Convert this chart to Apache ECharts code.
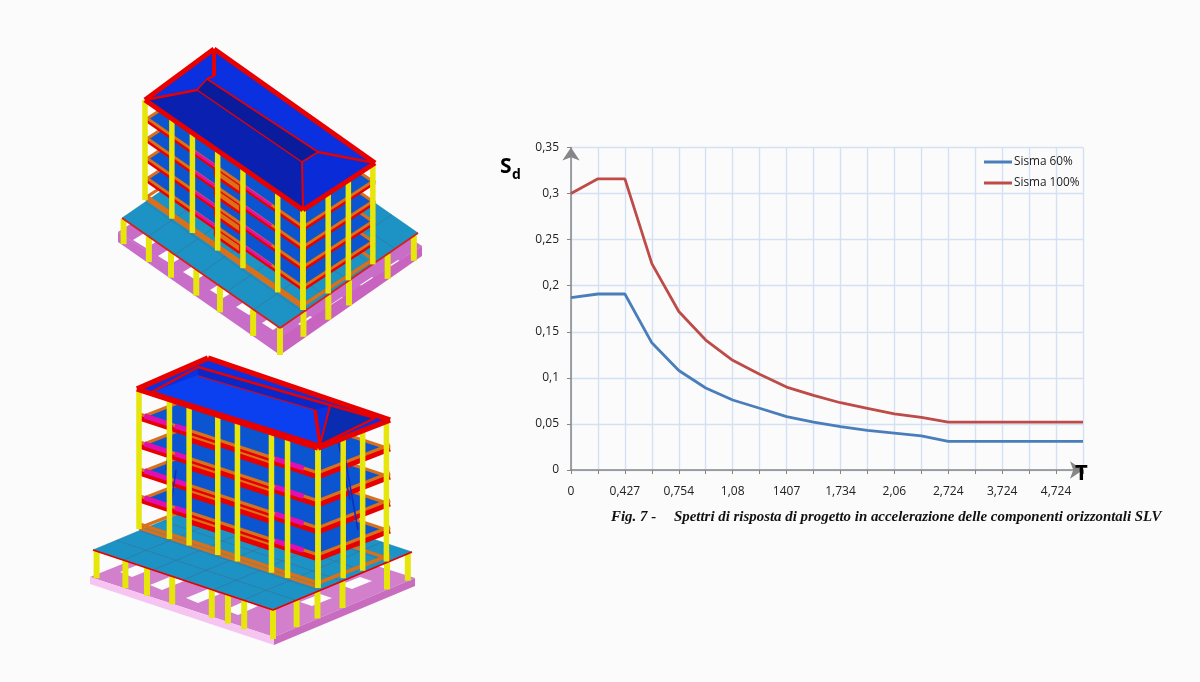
<!DOCTYPE html>
<html><head><meta charset="utf-8">
<style>html,body{margin:0;padding:0;background:#fbfbfb}#c{width:1200px;height:682px}</style>
<script src="https://cdn.jsdelivr.net/npm/echarts@6/dist/echarts.min.js"></script>
</head><body><div id="c"></div>
<script>
// ---- chart data ----
const periods = ['0','0,214','0,427','0,591','0,754','0,917','1,08','1,244','1407','1,57','1,734','1,897','2,06','2,224','2,724','3,224','3,724','4,224','4,724','5,224'];
const sisma60 = [0.187,0.191,0.191,0.138,0.108,0.089,0.076,0.067,0.058,0.052,0.047,0.043,0.040,0.037,0.031,0.031,0.031,0.031,0.031,0.031];
const sisma100 = [0.300,0.316,0.316,0.224,0.172,0.141,0.119,0.104,0.090,0.081,0.073,0.067,0.061,0.057,0.052,0.052,0.052,0.052,0.052,0.052];
const yTicks = {0:'0',0.05:'0,05',0.1:'0,1',0.15:'0,15',0.2:'0,2',0.25:'0,25',0.3:'0,3',0.35:'0,35'};
const captionFig = 'Fig. 7 -';
const captionText = 'Spettri di risposta di progetto in accelerazione delle componenti orizzontali SLV';

// ---- illustration helpers (decorative building drawings, not data) ----
const art = [];
const poly = (pts, fill, stroke, lw) => art.push({type:'polygon', silent:true, shape:{points:pts}, style:{fill, stroke:stroke||null, lineWidth:lw||0}});
const line = (a, b, color, lw) => art.push({type:'line', silent:true, shape:{x1:a[0],y1:a[1],x2:b[0],y2:b[1]}, style:{stroke:color, lineWidth:lw}});
const mix = (a, b, t) => [a[0]+(b[0]-a[0])*t, a[1]+(b[1]-a[1])*t];
const down = (p, d) => [p[0], p[1]+d];
const RED='#e80000', YEL='#e6e60a', ORG='#d9701a', TEAL='#1c93c4', MAG='#e010b0', PLATE='#0b55d0';

function building(b) {
  // base
  poly(b.baseTop, b.baseTopCol);
  b.holes.forEach(h => poly(h, '#fbfbfb'));
  poly(b.baseLeft, b.baseLeftCol);
  poly(b.baseRight, b.baseRightCol);
  // columns below the slab
  b.subLeft.forEach(t => { const p = mix(b.sL, b.sF, t); line(p, down(p, b.subH + t*2), YEL, 6); });
  b.subRight.forEach(t => { const p = mix(b.sF, b.sR, t); line(p, down(p, b.subH), YEL, 6); });
  // slab
  poly([b.sL, b.sF, b.sR, b.sB], TEAL, '#0d7f9c', 0.5);
  for (let i=1;i<6;i++) line(mix(b.sL,b.sB,i/6), mix(b.sF,b.sR,i/6), '#3a6f96', 0.6);
  for (let i=1;i<6;i++) line(mix(b.sL,b.sF,i/6), mix(b.sB,b.sR,i/6), '#3a6f96', 0.6);
  line(b.sL, b.sF, b.slabEdge, 1.8); line(b.sF, b.sR, b.slabEdge, 1.8);
  // storeys, bottom to top
  const [L,F,R] = [b.L,b.F,b.R];
  const B = [L[0]+R[0]-F[0], L[1]+R[1]-F[1]];
  b.colBack2.forEach(t => { const p = mix(B,R,t); line(p, down(p,b.h), YEL, 5); });
  [...b.levels].reverse().forEach((d,i) => {
    const bottom = i===0;
    if (!bottom) poly([down(L,d),down(F,d),down(R,d),down(B,d)], PLATE);
    line(down(B,d), down(R,d), ORG, 3);
    line(down(L,d), down(B,d), ORG, 3);
    const off = b.bandW/2 + 1.5;
    line(down(L,d-off), down(F,d-off), ORG, 3.5);
    line(down(F,d-off), down(R,d-off), ORG, 3.5);
    if (!bottom) {
      line(down(L,d), down(F,d), RED, b.bandW);
      line(down(F,d), down(R,d), RED, b.bandW);
      b.mag.forEach(m => line(down(mix(L,F,m[0]),d-off), down(mix(L,F,m[1]),d-off), MAG, b.bandW));
      b.notch.forEach(n => {
        const a = down(mix(L,F,n[0]),d), e = down(mix(L,F,n[1]),d);
        poly([a, e, down(e,b.nd), down(a,b.nd)], ORG);
        line(down(a,b.nd), down(e,b.nd), RED, b.bandW);
        line(a, down(a,b.nd), RED, 1.5);
        line(e, down(e,b.nd), RED, 1.5);
      });
    } else {
      line(down(L,d), down(F,d), ORG, 3);
    }
  });
  (b.braces||[]).forEach(s => line(s[0], s[1], '#1030c0', 1.6));
  b.colLeft.forEach(t => { const p = mix(L,F,t); line(p, down(p,b.h), YEL, 5.5); });
  b.colRight.forEach(t => { const p = mix(F,R,t); line(p, down(p,b.h), YEL, 5.5); });
  // roof
  poly(b.roofOuter, b.roofBackCol);
  poly(b.roofFront, b.roofFrontCol);
  poly(b.roofTop, b.roofTopCol);
  poly(b.roofSide, b.roofSideCol);
  b.ridges.forEach(r => line(r[0], r[1], RED, r[2]));
  for (let i=0;i<4;i++) { const [p,q]=[b.roofOuter[i],b.roofOuter[(i+1)%4]]; line(p,q,RED,b.roofW); }
}

// upper building
building({
  baseTop:[[118,232],[260,140],[422,246],[280,340]], baseTopCol:'#c96ec8',
  holes:[[[133,240],[146,232],[159,240],[146,248]],[[158,256],[171,248],[184,256],[171,264]],[[183,272],[196,264],[209,272],[196,280]],[[210,290],[223,282],[236,290],[223,298]],[[236,307],[249,299],[262,307],[249,315]],[[262,323],[273,316],[284,323],[273,330]],[[298,324],[310,316],[320,321],[308,329]],[[330,305],[342,297],[350,302],[338,310]],[[360,285],[372,277],[380,282],[368,290]],[[390,265],[398,260],[405,264],[396,269]]],
  baseLeft:[[118,232],[280,338],[280,355],[118,242]], baseLeftCol:'#c96ec8',
  baseRight:[[280,338],[422,246],[422,256],[280,355]], baseRightCol:'#c963c0',
  sL:[122,218], sF:[280,328], sR:[418,233], sB:[260,123], slabEdge:'#d8201a',
  subLeft:[0.01,0.17,0.31,0.47,0.62,0.83,1], subRight:[0.17,0.35,0.5,0.78,0.97], subH:25,
  L:[145,100], F:[303,210], R:[375,163], h:100,
  levels:[20,40,60,80,98], bandW:2.5, mag:[[0.3,0.44],[0.62,0.8]], notch:[[0.44,0.6]], nd:7,
  colBack2:[0.9],
  colLeft:[0,0.17,0.3,0.46,0.62,0.84,1], colRight:[0,0.35,0.63,0.97],
  roofOuter:[[214,49],[375,163],[303,210],[145,100]], roofBackCol:'#0a30e0',
  roofFront:[[145,100],[197,90],[302,162],[303,210]], roofFrontCol:'#0a20b0',
  roofTop:[[197,90],[207,79],[318,152],[302,162]], roofTopCol:'#0a1c9c',
  roofSide:[[303,210],[302,162],[318,152],[375,163]], roofSideCol:'#0a2cd8',
  ridges:[[[214,49],[214,76],4],[[207,79],[214,76],2],[[197,90],[145,100],2.5],[[197,90],[207,79],1.5],[[207,79],[318,152],1.5],[[197,90],[302,162],1.5],[[302,162],[318,152],1.5],[[318,152],[375,163],2.5],[[302,162],[303,210],2]],
  roofW:5
});

// lower building
building({
  baseTop:[[90,577],[232,520],[415,578],[274,637]], baseTopCol:'#d27fcc',
  holes:[[[120,572],[140,564],[152,569],[132,577]],[[150,585],[172,576],[184,581],[162,590]],[[186,598],[208,589],[220,594],[198,603]],[[225,610],[245,601],[258,606],[238,615]],[[300,602],[320,594],[332,598],[312,606]],[[340,585],[360,577],[372,581],[352,589]]],
  baseLeft:[[90,577],[274,637],[274,645],[90,584]], baseLeftCol:'#f6c4f0',
  baseRight:[[274,637],[415,578],[415,586],[274,645]], baseRightCol:'#c86cc0',
  sL:[93,550], sF:[273,610], sR:[412,552], sB:[232,492], slabEdge:'#e80000',
  subLeft:[0.02,0.18,0.3,0.44,0.66,0.75,0.84,1], subRight:[0.17,0.32,0.5,0.82,0.97], subH:27,
  L:[139,389], F:[318,448], R:[390,420], h:140,
  levels:[29,57,84,111,139], bandW:5, mag:[[0.03,0.17],[0.2,0.27],[0.76,0.83],[0.84,0.92]], notch:[[0.28,0.44],[0.55,0.74]], nd:5,
  colBack2:[],
  braces:[[[172,425],[166,470]],[[176,470],[168,525]],[[336,430],[350,500]],[[344,452],[358,530]]],
  colLeft:[0,0.17,0.28,0.44,0.55,0.74,0.83,1], colRight:[0,0.35,0.62,0.95],
  roofOuter:[[208,358],[390,420],[318,448],[137,389]], roofBackCol:'#0a30e0',
  roofFront:[[152,392],[198,375],[315,410],[320,445]], roofFrontCol:'#0a40f0',
  roofTop:[[198,375],[198,367],[330,406],[315,410]], roofTopCol:'#0a28c8',
  roofSide:[[320,445],[330,406],[375,418]], roofSideCol:'#0a2cb0',
  ridges:[[[152,392],[198,367],2.5],[[152,392],[320,445],2.5],[[198,367],[375,418],2.5],[[198,376],[315,410],1.2],[[315,410],[320,445],3.5],[[330,406],[320,445],2],[[320,445],[375,418],2.5]],
  roofW:5.5
});

// chart labels
const textFont = '"Open Sans","Noto Sans",sans-serif';
const serif = 'italic bold 14.9px "Liberation Serif",serif';
art.push({type:'text', silent:true, left:500, top:157, style:{text:'S', fill:'#000', font:'bold 21px "Open Sans",sans-serif'}});
art.push({type:'text', silent:true, left:512, top:168, style:{text:'d', fill:'#000', font:'bold 14px "Open Sans",sans-serif'}});
art.push({type:'text', silent:true, left:1075, top:463, z:100, style:{text:'T', fill:'#000', font:'bold 22px "Open Sans",sans-serif'}});
art.push({type:'text', silent:true, left:611, top:510, style:{text:captionFig, fill:'#111', font:serif}});
art.push({type:'text', silent:true, left:674, top:510, style:{text:captionText, fill:'#111', font:serif}});

const chart = echarts.init(document.getElementById('c'), null, {renderer:'canvas'});
chart.setOption({
  backgroundColor:'#fbfbfb',
  animation:false,
  grid:{left:571, right:117, top:147.5, bottom:212, containLabel:false},
  legend:{
    orient:'vertical', left:979, top:151, itemWidth:28, itemHeight:3, itemGap:9,
    icon:'rect', textStyle:{fontFamily:textFont, fontSize:11.8, color:'#222', padding:[0,0,0,-3]},
    data:['Sisma 60%','Sisma 100%']
  },
  xAxis:{
    type:'category', data:periods, boundaryGap:false,
    axisLine:{lineStyle:{color:'#868686', width:1.5}, symbol:['none','arrow'], symbolSize:[13,13]},
    axisTick:{show:true, length:4, interval:0, lineStyle:{color:'#868686'}},
    axisLabel:{interval:1, margin:16, fontFamily:textFont, fontSize:12, color:'#222'},
    splitLine:{show:true, interval:0, lineStyle:{color:'#d3e1f3', width:1.4}}
  },
  yAxis:{
    type:'value', min:0, max:0.35, interval:0.05,
    axisLine:{show:true, lineStyle:{color:'#868686', width:1.5}, symbol:['none','arrow'], symbolSize:[13,13]},
    axisTick:{show:true, length:4, lineStyle:{color:'#868686'}},
    axisLabel:{margin:12, fontFamily:textFont, fontSize:12, color:'#222', formatter:v => yTicks[Math.round(v*100)/100]},
    splitLine:{show:true, lineStyle:{color:'#d3e1f3', width:1.4}}
  },
  series:[
    {name:'Sisma 60%', type:'line', data:sisma60, showSymbol:false, symbol:'none', lineStyle:{color:'#4a7ebb', width:2.8}, itemStyle:{color:'#4a7ebb'}, z:3},
    {name:'Sisma 100%', type:'line', data:sisma100, showSymbol:false, symbol:'none', lineStyle:{color:'#be4b48', width:2.8}, itemStyle:{color:'#be4b48'}, z:3}
  ],
  graphic:{elements:art}
});
</script></body></html>
